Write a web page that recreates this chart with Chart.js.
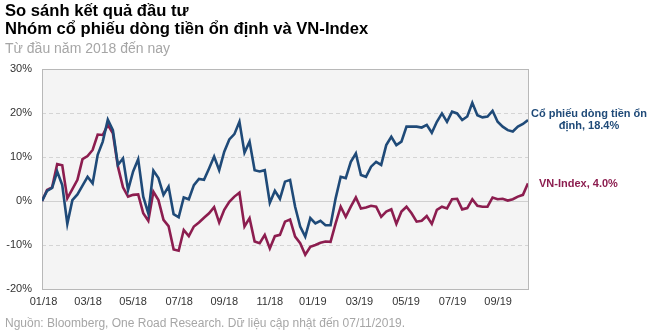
<!DOCTYPE html>
<html><head><meta charset="utf-8">
<script src="https://cdn.jsdelivr.net/npm/chart.js@4"></script>
<style>
body{margin:0;background:#fff;}
#wrap{position:relative;width:650px;height:336px;font-family:"Liberation Sans",Arial,sans-serif;overflow:hidden;}
.t{position:absolute;left:5px;white-space:nowrap;line-height:1;}
canvas{position:absolute;left:0;top:0;}
</style></head><body>
<div id="wrap">
<canvas id="c" width="650" height="336"></canvas>
<div class="t" style="top:3px;font-weight:bold;font-size:16.6px;color:#000">So sánh kết quả đầu tư</div>
<div class="t" style="top:21px;font-weight:bold;font-size:16.6px;color:#000">Nhóm cổ phiếu dòng tiền ổn định và VN-Index</div>
<div class="t" style="top:41px;font-size:14px;color:#a6a6a6">Từ đầu năm 2018 đến nay</div>
<div class="t" style="top:317px;font-size:12px;color:#a6a6a6">Nguồn: Bloomberg, One Road Research. Dữ liệu cập nhật đến 07/11/2019.</div>
</div>
<script>
// Weekly returns (%) since start of 2018
const stableFlow = [0,2.3,3,6.7,3.6,-5.2,0.2,1.5,3.5,5.5,4.0,10.5,13.5,18.5,16.1,8.2,9.7,2.5,6.7,9.5,
 1,-2.8,6.9,5.2,1.4,3.3,-3,-3.7,0.8,0.4,3.6,5.0,4.8,7.4,10.1,7.0,11.2,14,15.2,18,
 11,13.5,7,6.7,7,-0.4,2.3,0.5,4.4,4.8,-1.3,-5.8,-8.1,-3.9,-5.1,-4.5,-5.5,-5.5,0.6,5.5,
 5.2,8.9,10.8,5.9,5.5,7.8,8.9,8.2,12.7,14.6,12.7,13.5,16.9,16.9,16.9,16.7,17.3,15.5,18,19.9,
 18,20.3,19.9,18.4,19.2,22.3,19.5,19,19.2,20.5,18,16.9,16.1,15.8,16.9,17.5,18.4];
const vnIndex = [0,2.5,3.1,8.4,8.1,0.6,2.7,4.8,9.5,10.2,11.6,15.1,15,17.3,15.4,7.8,3.1,1,1.4,1.5,
 -2.8,-4.5,2.1,0.2,-4.3,-5.7,-11,-11.3,-6.6,-8,-5.8,-4.9,-3.8,-2.8,-1.4,-4.9,-2,-0.2,1,1.9,
 -5.8,-3.9,-9.2,-9.6,-7.7,-10.8,-8,-7.7,-4.7,-4.2,-8.1,-9.6,-12.2,-10.4,-10,-9.5,-9.2,-9.3,-5.1,-1.3,
 -3.6,-1.3,0.8,-1.7,-1.5,-1.1,-1.3,-3.6,-2.4,-1.9,-5.2,-2.4,-1.3,-2.8,-4.7,-4.5,-3.4,-5.2,-2,-1.3,
 -1.7,0.4,0.5,-1.9,-1.6,0.4,-1.1,-1.3,-1.3,0.8,0.4,0.5,0.1,0.4,1,1.4,4.0];
const seriesNames = ["Cổ phiếu dòng tiền ổn định", "VN-Index"];
const endLabels = [["Cổ phiếu dòng tiền ổn", "định, 18.4%"], ["VN-Index, 4.0%"]];
const xTickWeeks = [0.3,9.1,18,27.1,36,45,53.5,62.7,71.9,81.1,90.1];
const xTickLabels = ["01/18","03/18","05/18","07/18","09/18","11/18","01/19","03/19","05/19","07/19","09/19"];
const yTicks = [-20,-10,0,10,20,30];
const gridDashed = [-10,10,20];

const BLUE = "#1f4a78", RED = "#8c1d4f";
const FONT = "'Liberation Sans', Arial, sans-serif";

const bgPlugin = {
  id: "bg",
  beforeDatasetsDraw(chart) {
    const {ctx, chartArea: a, scales: {y}} = chart;
    ctx.save();
    ctx.fillStyle = "#f4f4f4";
    ctx.fillRect(a.left, a.top, a.right - a.left, a.bottom - a.top);
    ctx.lineWidth = 1;
    ctx.strokeStyle = "#d4d4d4";
    ctx.setLineDash([4, 3]);
    gridDashed.forEach(v => {
      const py = Math.round(y.getPixelForValue(v)) + 0.5;
      ctx.beginPath(); ctx.moveTo(a.left, py); ctx.lineTo(a.right, py); ctx.stroke();
    });
    ctx.setLineDash([]);
    ctx.strokeStyle = "#d0d0d0";
    const p0 = Math.round(y.getPixelForValue(0)) + 0.5;
    ctx.beginPath(); ctx.moveTo(a.left, p0); ctx.lineTo(a.right, p0); ctx.stroke();
    ctx.strokeStyle = "#b8b8b8";
    ctx.strokeRect(Math.round(a.left) + 0.5, Math.round(a.top) + 0.5, Math.round(a.right - a.left), Math.round(a.bottom - a.top));
    ctx.restore();
  },
  afterDatasetsDraw(chart) {
    const {ctx, chartArea: a} = chart;
    ctx.save();
    ctx.font = "bold 11px " + FONT;
    ctx.textBaseline = "middle";
    chart.data.datasets.forEach((ds, i) => {
      const meta = chart.getDatasetMeta(i);
      const last = meta.data[meta.data.length - 1];
      const lines = endLabels[i];
      ctx.fillStyle = ds.borderColor;
      const lh = 12.5;
      const y0 = last.y - (lines.length - 1) * lh / 2;
      if (lines.length > 1) {
        ctx.textAlign = "center";
        lines.forEach((t, k) => ctx.fillText(t, a.right + 61, y0 + k * lh));
      } else {
        ctx.textAlign = "left";
        ctx.fillText(lines[0], a.right + 11, y0 + 1);
      }
    });
    ctx.restore();
  }
};

new Chart(document.getElementById("c"), {
  type: "line",
  data: {
    datasets: [
      {label: seriesNames[0], data: stableFlow.map((v, i) => ({x: i, y: v})), borderColor: BLUE, backgroundColor: BLUE},
      {label: seriesNames[1], data: vnIndex.map((v, i) => ({x: i, y: v})), borderColor: RED, backgroundColor: RED}
    ]
  },
  options: {
    responsive: false,
    animation: false,
    devicePixelRatio: 1,
    layout: {padding: {left: 0, top: 69, right: 122, bottom: 0}},
    elements: {point: {radius: 0}, line: {borderWidth: 2.6, tension: 0, borderJoinStyle: "miter"}},
    plugins: {legend: {display: false}, tooltip: {enabled: false}},
    scales: {
      x: {
        type: "linear", min: 0, max: stableFlow.length - 1,
        grid: {display: false, drawTicks: false}, border: {display: false},
        afterBuildTicks: ax => { ax.ticks = xTickWeeks.map(v => ({value: v})); },
        afterFit: ax => { ax.height = 47; },
        ticks: {autoSkip: false, maxRotation: 0, padding: 6, color: "#333", font: {size: 11, family: FONT},
          callback: (v, i) => xTickLabels[i]}
      },
      y: {
        min: -20, max: 30,
        grid: {display: false, drawTicks: false}, border: {display: false},
        afterBuildTicks: ax => { ax.ticks = yTicks.map(v => ({value: v})); },
        afterFit: ax => { ax.width = 42; },
        ticks: {padding: 10, color: "#333", font: {size: 11, family: FONT}, callback: v => v + "%"}
      }
    }
  },
  plugins: [bgPlugin]
});
</script>
</body></html>
